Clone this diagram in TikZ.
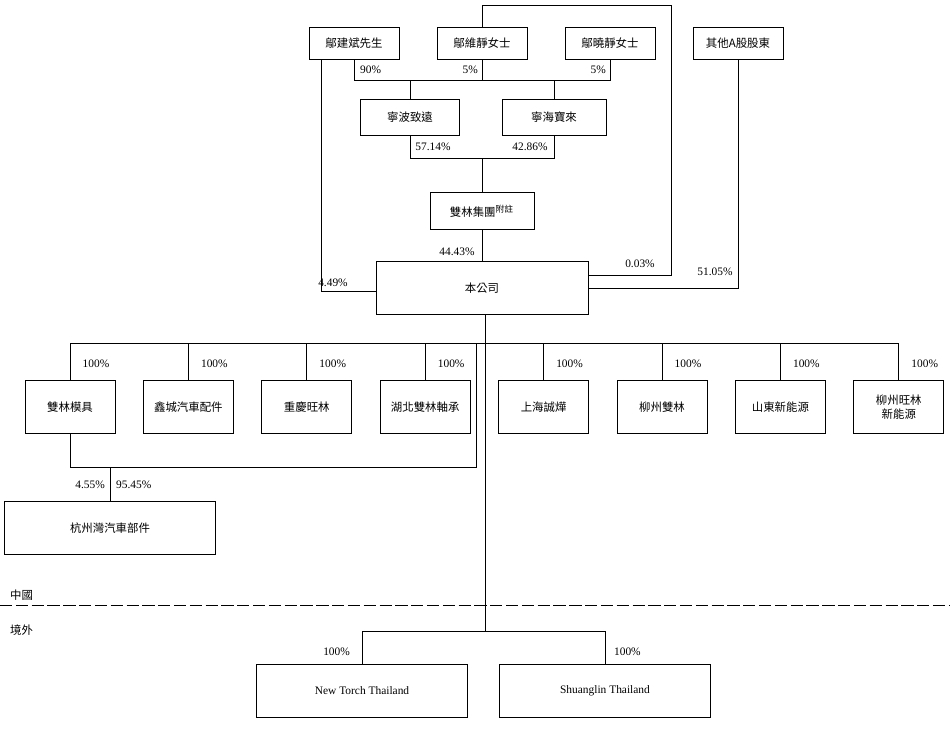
\documentclass[tikz,border=0pt]{standalone}
\usepackage{fontspec}
\setmainfont{Liberation Serif}
\newfontfamily\cjk{Noto Sans CJK TC}
\tikzset{
  every box/.style={draw, thin, minimum height=0.64cm, align=center, font=\cjk\fontsize{6.5}{8}\selectfont},
  pct/.style={font=\fontsize{6.5}{8}\selectfont, inner sep=1pt},
}
\begin{document}
\begin{tikzpicture}[x=0.02cm, y=-0.02cm, thin]
\useasboundingbox (0,0) rectangle (950,730);

% shareholders
\foreach \n/\t/\x in {jb/鄔建斌先生/354, wj/鄔維靜女士/482, xj/鄔曉靜女士/610, oa/其他A股股東/738}
  \node [every box, minimum width=1.8cm] (\n) at (\x,43) {\t};
\node [every box, minimum width=1.98cm, minimum height=0.72cm] (nb) at (410,117) {寧波致遠};
\node [every box, minimum width=2.08cm, minimum height=0.72cm] (nh) at (554,117) {寧海寶來};
\node [every box, minimum width=2.08cm, minimum height=0.74cm] (sg) at (482,211) {雙林集團\textsuperscript{\tiny 附註}};
\node [every box, minimum width=4.24cm, minimum height=1.06cm] (co) at (482,288) {本公司};

% subsidiaries
\foreach \t [count=\i] in {雙林模具,鑫城汽車配件,重慶旺林,湖北雙林軸承,上海誠燁,柳州雙林,山東新能源,柳州旺林\\新能源}
  \node [every box, minimum width=1.8cm, minimum height=1.06cm] (sub-\i) at (70+118.4*\i-118.4,407) {\t};
\node [every box, minimum width=4.22cm, minimum height=1.06cm] (hz) at (110,528) {杭州灣汽車部件};
\node [every box, minimum width=4.22cm, minimum height=1.06cm, font=\fontsize{6.5}{8}\selectfont] (nt) at (362,691) {New Torch Thailand};
\node [every box, minimum width=4.22cm, minimum height=1.06cm, font=\fontsize{6.5}{8}\selectfont] (st) at (605,691) {Shuanglin Thailand};

% top holdings
\draw (jb.south) -- (jb.south |- 0,80) -- (xj.south |- 0,80) -- (xj.south);
\draw (wj.south) -- (wj.south |- 0,80);
\draw (nb.north) -- (nb.north |- 0,80);
\draw (nh.north) -- (nh.north |- 0,80);
\node [pct, anchor=west] at (358,70) {90\%};
\node [pct, anchor=east] at (480,70) {5\%};
\node [pct, anchor=east] at (608,70) {5\%};
\draw (nb.south) -- (nb.south |- 0,158) -- (nh.south |- 0,158) -- (nh.south);
\draw (sg.north) -- (sg.north |- 0,158);
\node [pct] at (433,147) {57.14\%};
\node [pct] at (530,147) {42.86\%};
\draw (sg.south) -- (co.north);
\node [pct] at (457,252) {44.43\%};
\draw (321,59) -- (321,291) -- (co.west |- 0,291);
\node [pct] at (333,283) {4.49\%};
\draw (wj.north) -- (482,5) -- (671,5) -- (671,275) -- (co.east |- 0,275);
\node [pct] at (640,264) {0.03\%};
\draw (oa.south) -- (738,288) -- (co.east);
\node [pct] at (715,272) {51.05\%};

% company to subsidiaries
\draw (485,315) -- (485,631);
\draw (sub-1.north |- 0,343) -- (sub-8.north |- 0,343);
\foreach \i in {1,...,8} {
  \draw (sub-\i.north) -- (sub-\i.north |- 0,343);
  \node [pct, anchor=west] at ([xshift=6]sub-\i.north |- 0,364) {100\%};
}
\draw (476,343) -- (476,467) -- (sub-1.south |- 0,467) -- (sub-1.south);
\draw (hz.north) -- (hz.north |- 0,467);
\node [pct, anchor=east] at (107,485) {4.55\%};
\node [pct, anchor=west] at (114,485) {95.45\%};

% border
\draw [dash pattern=on 7pt off 2pt] (0,605) -- (950,605);
\node [pct, font=\cjk\fontsize{6.5}{8}\selectfont, anchor=west] at (8,595) {中國};
\node [pct, font=\cjk\fontsize{6.5}{8}\selectfont, anchor=west] at (8,630) {境外};

% overseas
\draw (nt.north) -- (nt.north |- 0,631) -- (st.north |- 0,631) -- (st.north);
\node [pct, anchor=east] at (352,652) {100\%};
\node [pct, anchor=west] at (612,652) {100\%};
\end{tikzpicture}
\end{document}
